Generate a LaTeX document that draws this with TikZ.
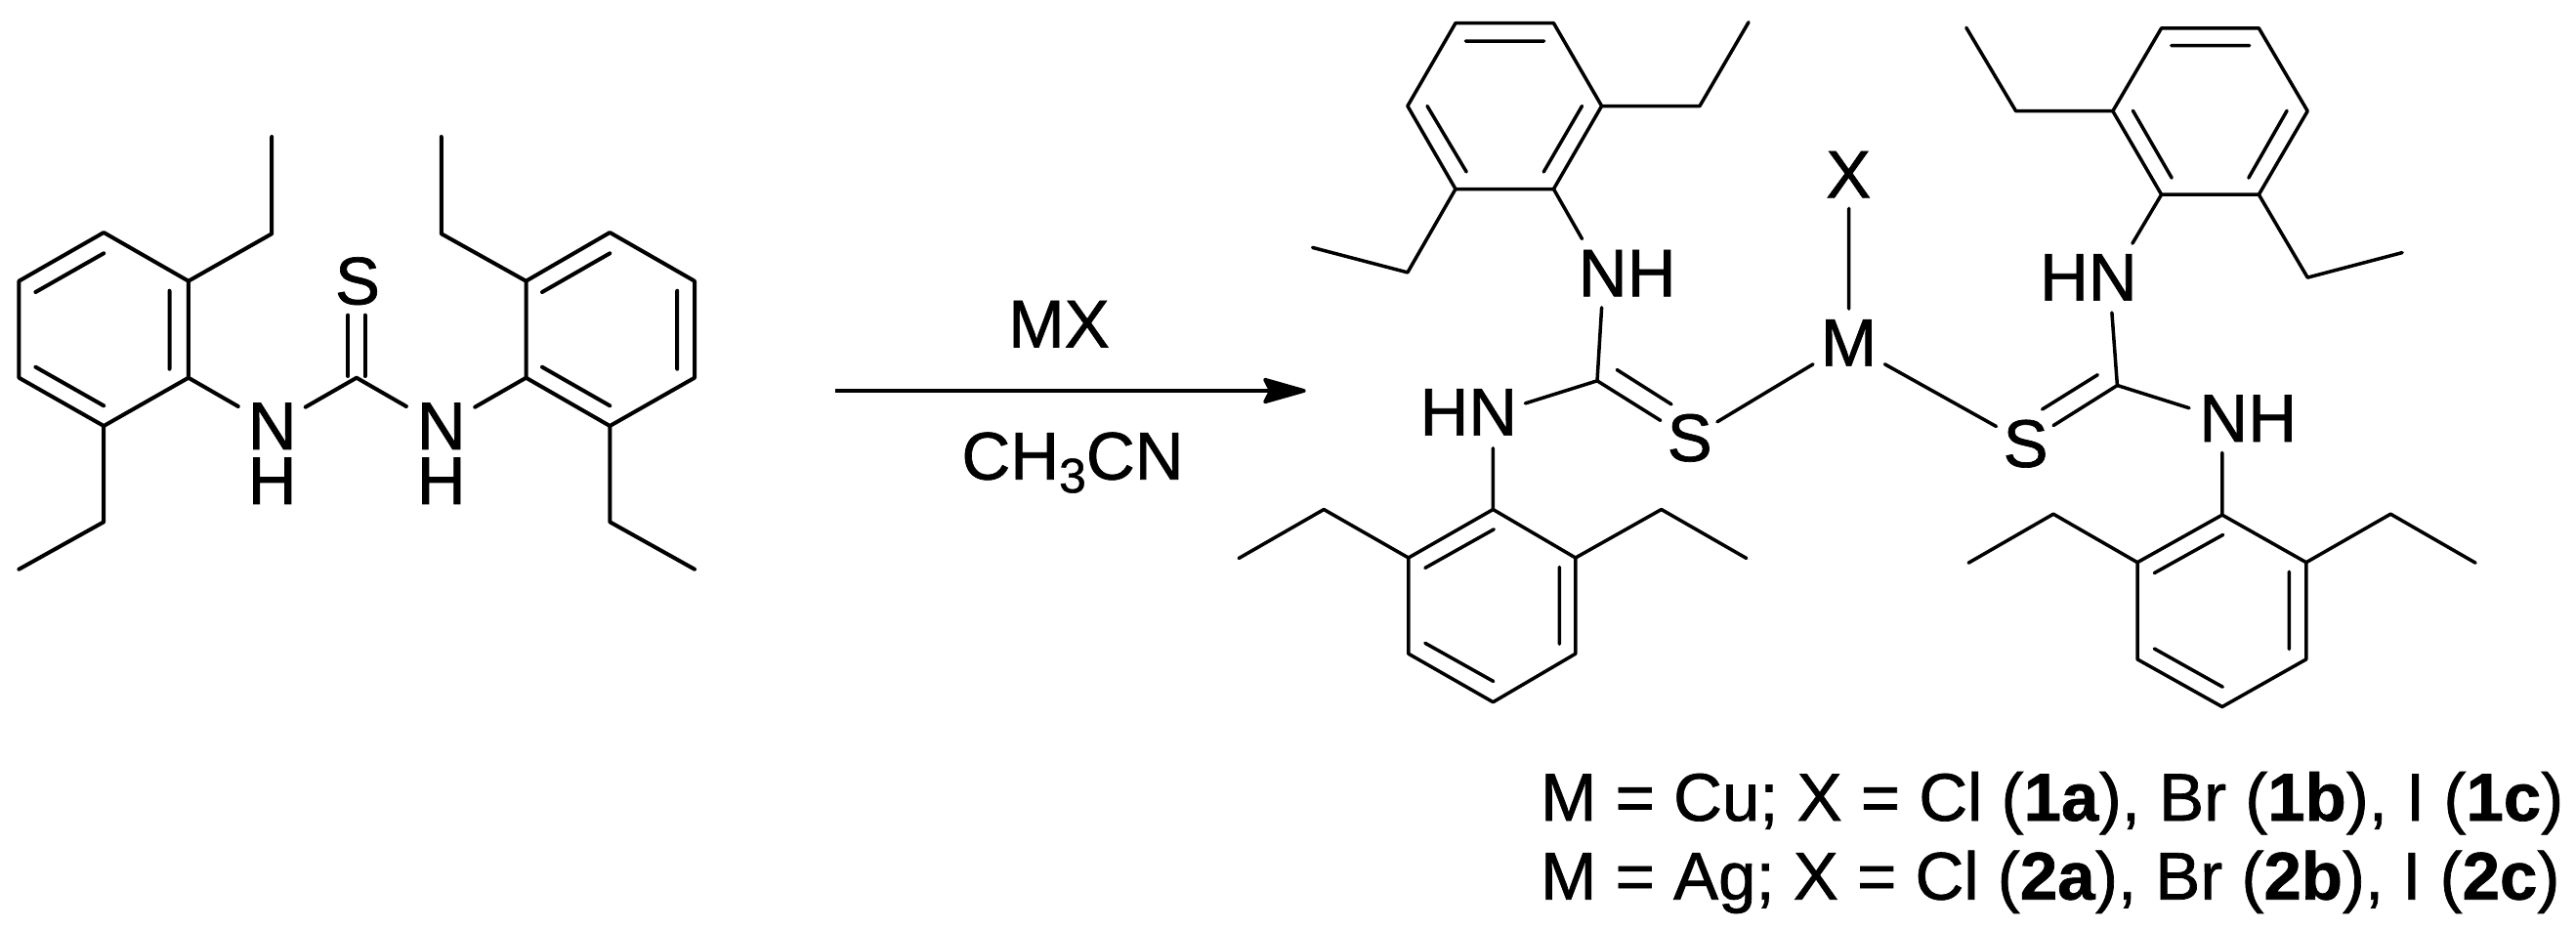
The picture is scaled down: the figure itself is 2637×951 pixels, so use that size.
\documentclass[tikz,border=0pt]{standalone}
\usepackage{fontspec}
\setmainfont{Liberation Sans}
\newfontfamily\labelfont[FakeBold=1,BoldFont={Liberation Sans Bold},BoldFeatures={FakeBold=1}]{Liberation Sans}
\usetikzlibrary{arrows.meta}
\tikzset{
  bondl/.style={line width=4pt,line cap=round,line join=round},
  bondr/.style={line width=3.5pt,line cap=round,line join=round},
  atom/.style={inner sep=0pt,outer sep=0pt,font=\labelfont\fontsize{69}{56}\selectfont},
  legend/.style={inner sep=0pt,outer sep=0pt,anchor=base west,font=\labelfont\fontsize{69}{80}\selectfont},
  rxn/.style={line width=3.7pt,-{Stealth[length=50pt,width=28pt,inset=7pt,round]}}
}
\begin{document}
\begin{tikzpicture}[x=1pt,y=-1pt]
\useasboundingbox (0,0) rectangle (2637,951);
% ---------- reactant: coordinates ----------
\coordinate (a1) at (106.2,238);
\coordinate (a2) at (19.4,287.7);
\coordinate (a3) at (19.4,386.7);
\coordinate (a4) at (106.2,436);
\coordinate (a5) at (192.9,386.7);
\coordinate (a6) at (192.9,287.7);
\coordinate (ai1) at (173.5,297.7);
\coordinate (ai2) at (173.5,377.7);
\coordinate (ai3) at (36.4,299);
\coordinate (ai4) at (106.2,259.3);
\coordinate (ai5) at (36.4,375.7);
\coordinate (ai6) at (106.2,415.3);
\coordinate (ae1) at (278.2,239.3);
\coordinate (ae2) at (278.2,140);
\coordinate (ae3) at (106.2,534.3);
\coordinate (ae4) at (19.4,582.7);
\coordinate (b1) at (538.5,386.7);
\coordinate (b2) at (538.5,287.7);
\coordinate (b3) at (624.3,238);
\coordinate (b4) at (711,287.7);
\coordinate (b5) at (711,386.7);
\coordinate (b6) at (624.3,436);
\coordinate (bi1) at (693.2,297.7);
\coordinate (bi2) at (693.2,377.7);
\coordinate (bi3) at (555,299);
\coordinate (bi4) at (624.3,259.3);
\coordinate (bi5) at (555,375.7);
\coordinate (bi6) at (624.3,415.3);
\coordinate (be1) at (451.8,239.3);
\coordinate (be2) at (451.8,140);
\coordinate (be3) at (624.3,534.3);
\coordinate (be4) at (711,582.7);
\coordinate (c0) at (365,386.7);
\coordinate (n1a) at (243.8,416);
\coordinate (n1b) at (312.7,416.7);
\coordinate (n2a) at (415.9,416);
\coordinate (n2b) at (486.2,416.7);
\coordinate (s0a) at (356.3,322.7);
\coordinate (s0b) at (373.7,322.7);
\coordinate (c0a) at (356.3,385);
\coordinate (c0b) at (373.7,385);
% reactant: labels
\node[atom] (S0) at (366,287.7) {S};
\node[atom,align=center] (N1) at (278.7,464.2) {N\\H};
\node[atom,align=center] (N2) at (451.8,464.2) {N\\H};
% reactant: bonds
\draw[bondl] (a1)--(a2)--(a3)--(a4)--(a5)--(a6)--cycle;
\draw[bondl] (ai1)--(ai2) (ai3)--(ai4) (ai5)--(ai6);
\draw[bondl] (a6)--(ae1)--(ae2) (a4)--(ae3)--(ae4);
\draw[bondl] (b1)--(b2)--(b3)--(b4)--(b5)--(b6)--cycle;
\draw[bondl] (bi1)--(bi2) (bi3)--(bi4) (bi5)--(bi6);
\draw[bondl] (b2)--(be1)--(be2) (b6)--(be3)--(be4);
\draw[bondl] (a5)--(n1a) (n1b)--(c0)--(n2a) (n2b)--(b1);
\draw[bondl] (s0a)--(c0a) (s0b)--(c0b);
% ---------- arrow ----------
\coordinate (r0) at (855.3,400);
\coordinate (r1) at (1336.8,400);
\draw[rxn] (r0)--(r1);
\node[atom] (MX) at (1084,331.7) {MX};
\node[atom,anchor=base] (CN) at (1098,490.7) {CH{\fontsize{50}{60}\selectfont\raisebox{-13.5pt}{3}}CN};
% ---------- product, left half ----------
\coordinate (c1) at (1490,23.6);
\coordinate (c2) at (1590.4,23.6);
\coordinate (c3) at (1639.6,108.5);
\coordinate (c4) at (1590.4,193.5);
\coordinate (c5) at (1490,193.5);
\coordinate (c6) at (1440.9,108.5);
\coordinate (ci1) at (1500.3,42);
\coordinate (ci2) at (1580.6,42);
\coordinate (ci3) at (1461,108.5);
\coordinate (ci4) at (1501.2,176);
\coordinate (ci5) at (1619.5,108.5);
\coordinate (ci6) at (1580.2,176);
\coordinate (ce1) at (1740,108.5);
\coordinate (ce2) at (1790,22.7);
\coordinate (ce3) at (1440.9,278.9);
\coordinate (ce4) at (1343.6,253.4);
\coordinate (n3a) at (1619.5,244.5);
\coordinate (n3b) at (1639.6,314.8);
\coordinate (c7) at (1635,389.8);
\coordinate (s1a) at (1699.8,430.4);
\coordinate (ci7) at (1655.2,378.5);
\coordinate (s1b) at (1711,413.9);
\coordinate (n4a) at (1561.4,412.9);
\coordinate (n4b) at (1528.4,458.7);
\coordinate (d1) at (1528.4,521.5);
\coordinate (d2) at (1612.8,571);
\coordinate (d3) at (1612.8,669.2);
\coordinate (d4) at (1528.4,718.7);
\coordinate (d5) at (1441.8,669.2);
\coordinate (d6) at (1441.8,571);
\coordinate (di1) at (1458.8,581.4);
\coordinate (di2) at (1529.3,541.8);
\coordinate (di3) at (1596.3,580.5);
\coordinate (di4) at (1596.3,659.3);
\coordinate (di5) at (1458.8,658.3);
\coordinate (di6) at (1528.8,697.5);
\coordinate (de1) at (1355.2,521.5);
\coordinate (de2) at (1268.1,571.5);
\coordinate (de3) at (1700.7,521.5);
\coordinate (de4) at (1787.8,571.5);
\coordinate (s1c) at (1757.9,431.8);
\coordinate (m1) at (1856,372.8);
\coordinate (m2) at (1892.7,316.2);
\coordinate (x0) at (1892.7,213.3);
\coordinate (m3) at (1929.4,372.8);
\node[atom] (NH1) at (1665.7,279.6) {NH};
\node[atom] (HN1) at (1503.4,421.9) {HN};
\node[atom] (S1) at (1729.7,448.3) {S};
\node[atom] (M) at (1892.5,350.9) {M};
\node[atom] (X) at (1892.2,178.6) {X};
\draw[bondr] (c1)--(c2)--(c3)--(c4)--(c5)--(c6)--cycle;
\draw[bondr] (ci1)--(ci2) (ci3)--(ci4) (ci5)--(ci6);
\draw[bondr] (c3)--(ce1)--(ce2) (c5)--(ce3)--(ce4);
\draw[bondr] (c4)--(n3a) (n3b)--(c7)--(s1a) (ci7)--(s1b) (c7)--(n4a) (n4b)--(d1);
\draw[bondr] (d1)--(d2)--(d3)--(d4)--(d5)--(d6)--cycle;
\draw[bondr] (di1)--(di2) (di3)--(di4) (di5)--(di6);
\draw[bondr] (d6)--(de1)--(de2) (d2)--(de3)--(de4);
\draw[bondr] (s1c)--(m1) (m2)--(x0);
% ---------- product, right half ----------
\coordinate (s2c) at (2043.5,436.5);
\coordinate (c8) at (2167.4,394.5);
\coordinate (s2a) at (2102,435.6);
\coordinate (ci8) at (2147.3,383.7);
\coordinate (s2b) at (2090.6,419);
\coordinate (n5b) at (2161.9,320);
\coordinate (n5a) at (2182.9,249.2);
\coordinate (e1) at (2212.6,199.2);
\coordinate (e2) at (2162.8,113.7);
\coordinate (e3) at (2212.6,28.8);
\coordinate (e4) at (2312.3,28.8);
\coordinate (e5) at (2362.2,113.7);
\coordinate (e6) at (2312.3,199.2);
\coordinate (ei1) at (2222.7,46.7);
\coordinate (ei2) at (2302.7,46.7);
\coordinate (ei3) at (2183.4,113.3);
\coordinate (ei4) at (2223.2,182.2);
\coordinate (ei5) at (2341.1,113.3);
\coordinate (ei6) at (2301.8,182.2);
\coordinate (ee1) at (2063.6,113.7);
\coordinate (ee2) at (2012.8,28.3);
\coordinate (ee3) at (2362.2,284.1);
\coordinate (ee4) at (2459.1,258.6);
\coordinate (n6a) at (2241,417.7);
\coordinate (n6b) at (2274.8,463.4);
\coordinate (f1) at (2274.8,527.1);
\coordinate (f2) at (2360.8,575.7);
\coordinate (f3) at (2360.8,674.9);
\coordinate (f4) at (2274.8,723.5);
\coordinate (f5) at (2188,674.9);
\coordinate (f6) at (2188,575.7);
\coordinate (fi1) at (2205.3,586.6);
\coordinate (fi2) at (2275.7,547.4);
\coordinate (fi3) at (2343.4,585.2);
\coordinate (fi4) at (2343.4,664.5);
\coordinate (fi5) at (2205.3,664);
\coordinate (fi6) at (2275.3,703.2);
\coordinate (fe1) at (2102,526.2);
\coordinate (fe2) at (2015.1,576.2);
\coordinate (fe3) at (2447.2,526.2);
\coordinate (fe4) at (2534.1,576.2);
\node[atom] (S2) at (2073.6,454.2) {S};
\node[atom] (HN2) at (2137.9,283.9) {HN};
\node[atom] (NH2) at (2301.2,428.3) {NH};
\draw[bondr] (m3)--(s2c);
\draw[bondr] (s2a)--(c8)--(n5b) (s2b)--(ci8) (c8)--(n6a) (n6b)--(f1) (n5a)--(e1);
\draw[bondr] (e1)--(e2)--(e3)--(e4)--(e5)--(e6)--cycle;
\draw[bondr] (ei1)--(ei2) (ei3)--(ei4) (ei5)--(ei6);
\draw[bondr] (e2)--(ee1)--(ee2) (e6)--(ee3)--(ee4);
\draw[bondr] (f1)--(f2)--(f3)--(f4)--(f5)--(f6)--cycle;
\draw[bondr] (fi1)--(fi2) (fi3)--(fi4) (fi5)--(fi6);
\draw[bondr] (f6)--(fe1)--(fe2) (f2)--(fe3)--(fe4);
% ---------- legend ----------
\node[legend] (L1) at (1577,840) {M = Cu; X = Cl (\textbf{1a}), Br (\textbf{1b}), I (\textbf{1c})};
\node[legend] (L2) at (1577,920.7) {M = Ag; X = Cl (\textbf{2a}), Br (\textbf{2b}), I (\textbf{2c})};
\end{tikzpicture}
\end{document}
